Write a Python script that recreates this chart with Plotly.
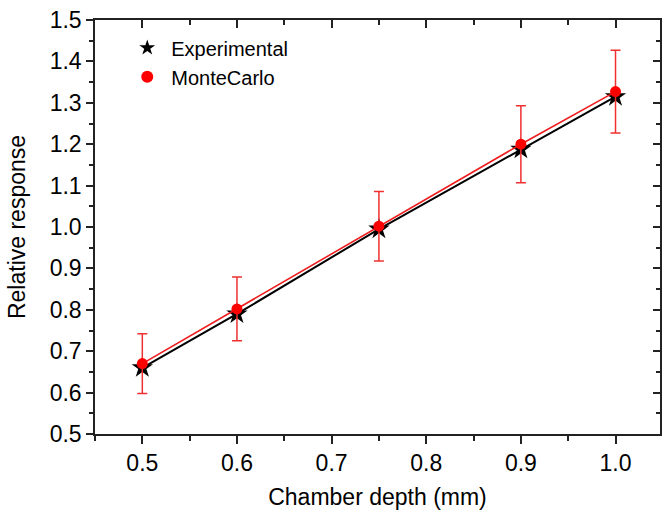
import plotly.graph_objects as go

depth = [0.5, 0.6, 0.75, 0.9, 1.0]
experimental = [0.66, 0.79, 0.995, 1.188, 1.315]
montecarlo = [0.67, 0.802, 1.002, 1.2, 1.327]
mc_error = [0.072, 0.077, 0.084, 0.093, 0.1]

x_ticks = [0.5, 0.6, 0.7, 0.8, 0.9, 1.0]
x_ticklabels = ["0.5", "0.6", "0.7", "0.8", "0.9", "1.0"]
y_ticks = [0.5, 0.6, 0.7, 0.8, 0.9, 1.0, 1.1, 1.2, 1.3, 1.4, 1.5]
y_ticklabels = ["0.5", "0.6", "0.7", "0.8", "0.9", "1.0", "1.1", "1.2", "1.3", "1.4", "1.5"]

FONT = "Liberation Sans, Arial, sans-serif"
AX = "#222222"

fig = go.Figure()

fig.add_trace(go.Scatter(
    x=depth, y=experimental, mode="lines+markers", showlegend=False,
    line=dict(color="black", width=2),
    marker=dict(symbol="star", size=16, color="black"),
))
fig.add_trace(go.Scatter(
    x=depth, y=montecarlo, mode="lines+markers", showlegend=False,
    line=dict(color="#ee1c1c", width=1.6),
    marker=dict(symbol="circle", size=11, color="#ff0000"),
    error_y=dict(type="data", array=mc_error, visible=True,
                 color="#ee3030", thickness=1.5, width=5),
))
# legend entries (marker only)
fig.add_trace(go.Scatter(
    x=[None], y=[None], mode="markers", name="Experimental",
    marker=dict(symbol="star", size=16, color="black"),
))
fig.add_trace(go.Scatter(
    x=[None], y=[None], mode="markers", name="MonteCarlo",
    marker=dict(symbol="circle", size=10, color="#ff0000"),
))

XR = [0.45, 1.047]
YR = [0.5, 1.5]

fig.update_layout(
    width=662, height=510,
    margin=dict(l=95, r=2, t=20, b=76),
    paper_bgcolor="white", plot_bgcolor="white",
    font=dict(family=FONT, size=23, color="black"),
    legend=dict(x=0.05, y=0.98, xanchor="left", yanchor="top",
                bgcolor="rgba(0,0,0,0)", font=dict(size=20),
                itemsizing="constant", tracegroupgap=0, itemwidth=38),
    xaxis=dict(
        range=XR, tickvals=x_ticks, ticktext=x_ticklabels, automargin=False,
        showgrid=False, zeroline=False,
        showline=True, linecolor=AX, linewidth=1.5,
        ticks="outside", ticklen=8, tickwidth=1.5, tickcolor=AX,
        minor=dict(dtick=0.05, ticks="outside", ticklen=5, tickwidth=1.5, tickcolor=AX),
        title=dict(text="Chamber depth (mm)", font=dict(size=23), standoff=14),
        tickfont=dict(size=23),
    ),
    yaxis=dict(
        range=YR, tickvals=y_ticks, ticktext=y_ticklabels, automargin=False,
        showgrid=False, zeroline=False,
        showline=True, linecolor=AX, linewidth=1.5,
        ticks="outside", ticklen=7, tickwidth=1.5, tickcolor=AX,
        minor=dict(dtick=0.05, ticks="outside", ticklen=4, tickwidth=1.5, tickcolor=AX),
        title=dict(text="Relative response", font=dict(size=23), standoff=18),
        tickfont=dict(size=23),
    ),
    xaxis2=dict(
        range=XR, overlaying="x", side="top", automargin=False,
        tickvals=x_ticks, showticklabels=False, showgrid=False, zeroline=False,
        showline=True, linecolor=AX, linewidth=1.5,
        ticks="inside", ticklen=8, tickwidth=1.5, tickcolor=AX,
        minor=dict(dtick=0.05, ticks="inside", ticklen=5, tickwidth=1.5, tickcolor=AX),
    ),
    yaxis2=dict(
        range=YR, overlaying="y", side="right", automargin=False,
        tickvals=y_ticks, showticklabels=False, showgrid=False, zeroline=False,
        showline=True, linecolor=AX, linewidth=1.5,
        ticks="inside", ticklen=7, tickwidth=1.5, tickcolor=AX,
        minor=dict(dtick=0.05, ticks="inside", ticklen=4, tickwidth=1.5, tickcolor=AX),
    ),
)
# invisible trace to activate secondary axes
fig.add_trace(go.Scatter(x=[None], y=[None], xaxis="x2", yaxis="y2",
                         showlegend=False, hoverinfo="skip"))

fig.write_html(
    "out.html",
    config={"displayModeBar": False},
    post_script="document.body.style.margin='0';document.body.style.overflow='hidden';",
)
